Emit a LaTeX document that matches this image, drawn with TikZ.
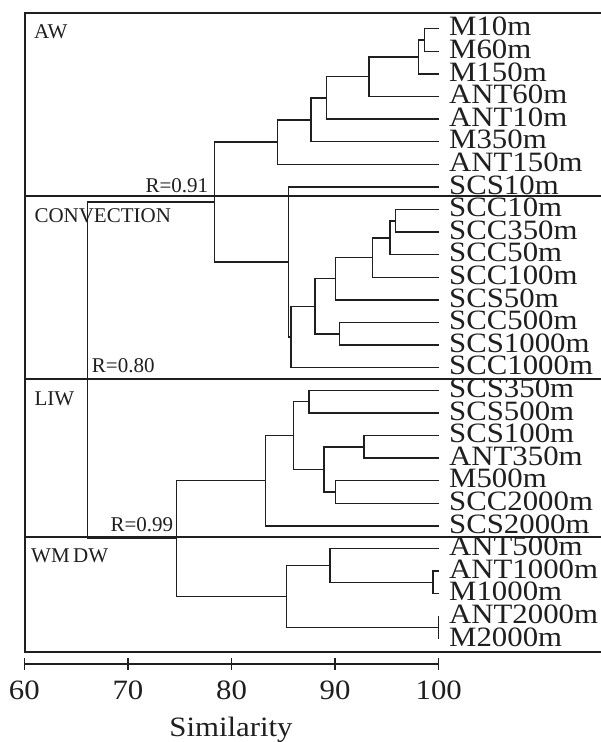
\documentclass[tikz,border=0pt]{standalone}
\usepackage{fontspec}
\usepackage{graphicx}
\setmainfont{Liberation Serif}
\newcommand{\wide}[1]{\scalebox{1.1}[1]{#1}}
\begin{document}
\begin{tikzpicture}[x=1pt,y=-1pt,
  br/.style={line width=1.5pt,color=black!88},
  frm/.style={line width=2pt,color=black!88},
  leaf/.style={anchor=base west,inner sep=0pt,font=\fontsize{28}{28}\selectfont,color=black!88},
  grp/.style={anchor=base west,inner sep=0pt,font=\fontsize{21}{21}\selectfont,color=black!88},
  rlab/.style={inner sep=0pt,font=\fontsize{21}{21}\selectfont,color=black!88},
  tick/.style={anchor=base,inner sep=0pt,font=\fontsize{28}{28}\selectfont,color=black!88}]
\useasboundingbox (0,0) rectangle (601,742);
% frame
\coordinate (ftr) at (601,12.7);
\coordinate (ftl) at (24.5,12.7);
\coordinate (fbl) at (24.5,652);
\coordinate (fbr) at (601,652);
\draw[frm] (ftr) -- (ftl) -- (fbl) -- (fbr);
\coordinate (s1l) at (24.5,195.7); \coordinate (s1r) at (601,195.7);
\coordinate (s2l) at (24.5,379);   \coordinate (s2r) at (601,379);
\coordinate (s3l) at (24.5,536.7); \coordinate (s3r) at (601,536.7);
\draw[frm] (s1l) -- (s1r);
\draw[frm] (s2l) -- (s2r);
\draw[frm] (s3l) -- (s3r);
% group labels
\node[grp] (gAW) at (34,38) {AW};
\node[grp] (gCV) at (34.3,222.3) {CONVECTION};
\node[grp] (gLI) at (34.3,405.7) {LIW};
\node[grp] (gWM) at (31,562.7) {WM\,DW};
% leaves
\foreach \i/\t in {0/M10m,1/M60m,2/M150m,3/ANT60m,4/ANT10m,5/M350m,6/ANT150m,7/SCS10m,
  8/SCC10m,9/SCC350m,10/SCC50m,11/SCC100m,12/SCS50m,13/SCC500m,14/SCS1000m,15/SCC1000m,
  16/SCS350m,17/SCS500m,18/SCS100m,19/ANT350m,20/M500m,21/SCC2000m,22/SCS2000m,
  23/ANT500m,24/ANT1000m,25/M1000m,26/ANT2000m,27/M2000m}{
  \pgfmathsetmacro{\yy}{28.7+22.6*\i}
  \coordinate (L\i) at (438.5,\yy);
  \node[leaf] (T\i) at (449,\yy+7.2) {\wide{\t}};
}
% internal nodes
\coordinate (a1) at (424.3,40);
\coordinate (a2) at (418.3,56.95);
\coordinate (a3) at (369,76.7);
\coordinate (a4) at (326.7,97.9);
\coordinate (a5) at (311,119.8);
\coordinate (a6) at (277.3,142.05);
\coordinate (c1) at (395.7,220.8);
\coordinate (c2) at (390,237.75);
\coordinate (c3) at (372.3,257.5);
\coordinate (c4) at (335.7,278.7);
\coordinate (c5) at (339.3,333.8);
\coordinate (c6) at (315,306.25);
\coordinate (c7) at (291,337);
\coordinate (c8) at (288.3,261.9);
\coordinate (r91) at (214.3,202);
\coordinate (l1) at (309,401.6);
\coordinate (l2) at (364,446.8);
\coordinate (l3) at (335.3,492);
\coordinate (l4) at (324,469.4);
\coordinate (l5) at (293.3,435.5);
\coordinate (l6) at (265.7,480.7);
\coordinate (w1) at (433,582.4);
\coordinate (w2) at (330,565.45);
\coordinate (w3) at (438.5,627.6);
\coordinate (w4) at (286.7,596.5);
\coordinate (r99) at (176.7,538.6);
\coordinate (r80) at (87.3,370.3);
% connectors
\foreach \p/\c in {a1/L0,a1/L1,a2/a1,a2/L2,a3/a2,a3/L3,a4/a3,a4/L4,a5/a4,a5/L5,a6/a5,a6/L6,
  c1/L8,c1/L9,c2/c1,c2/L10,c3/c2,c3/L11,c4/c3,c4/L12,c5/L13,c5/L14,c6/c4,c6/c5,c7/c6,c7/L15,
  c8/L7,c8/c7,r91/a6,r91/c8,
  l1/L16,l1/L17,l2/L18,l2/L19,l3/L20,l3/L21,l4/l2,l4/l3,l5/l1,l5/l4,l6/l5,l6/L22,
  w1/L24,w1/L25,w2/L23,w2/w1,w3/L26,w3/L27,w4/w2,w4/w3,r99/l6,r99/w4,r80/r91,r80/r99}{
  \draw[br] (\p) |- (\c);
}
% R labels
\node[rlab,anchor=base east] (R91) at (208.3,192.7) {R=0.91};
\node[rlab,anchor=base west] (R80) at (91.7,372.3) {R=0.80};
\node[rlab,anchor=base east] (R99) at (173.3,531) {R=0.99};
% axis
\coordinate (ax0) at (24.3,664);
\coordinate (ax1) at (438.7,664);
\draw[br] (ax0) -- (ax1);
\foreach \v [count=\k] in {60,70,80,90,100}{
  \pgfmathsetmacro{\xx}{24.3+(\v-60)*10.36}
  \coordinate (tu\k) at (\xx,658);
  \coordinate (td\k) at (\xx,670);
  \draw[br] (tu\k) -- (td\k);
  \node[tick] (tl\k) at (\xx,699) {\wide{\v}};
}
\node[tick] (xl) at (231,736.7) {\wide{Similarity}};
\end{tikzpicture}
\end{document}
